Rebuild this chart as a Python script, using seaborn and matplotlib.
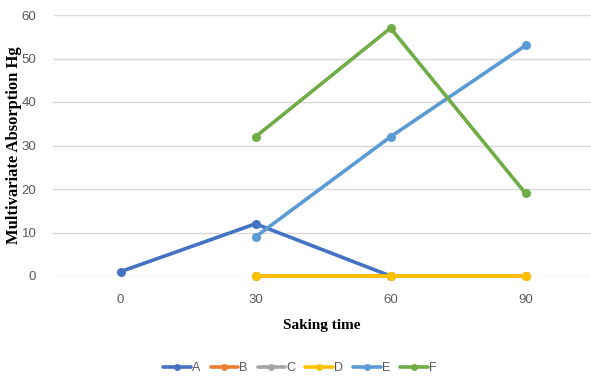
import matplotlib
matplotlib.use("Agg")
import matplotlib.pyplot as plt
import seaborn as sns
import pandas as pd
import numpy as np

# Soaking times (categories) and the six series
times = ["0", "30", "60", "90"]
series_names = ["A", "B", "C", "D", "E", "F"]
A = [1, 12, 0, None]
B = [None, 0, 0, 0]
C = [None, 0, 0, 0]
D = [None, 0, 0, 0]
E = [None, 9, 32, 53]
F = [None, 32, 57, 19]
colors = ["#4472C4", "#ED7D31", "#A5A5A5", "#FFC000", "#5B9BD5", "#70AD47"]

rows = []
for name, vals in zip(series_names, [A, B, C, D, E, F]):
    for i, (t, v) in enumerate(zip(times, vals)):
        if v is not None:
            rows.append({"pos": i, "time": t, "value": v, "series": name})
df = pd.DataFrame(rows)

sns.set_theme(style="white")
plt.rcParams["font.family"] = ["Liberation Sans", "DejaVu Sans"]

fig = plt.figure(figsize=(5.91, 3.80), dpi=100)
ax = fig.add_axes([53 / 591, 1 - 276 / 380, (591 - 53) / 591, (276 - 15) / 380])

sns.lineplot(data=df, x="pos", y="value", hue="series", hue_order=series_names,
             palette=colors, marker="o", markersize=6.5, markeredgewidth=0,
             linewidth=2.6, ax=ax, legend=False, clip_on=False, sort=False)

ax.set_xlim(-0.5, 3.485)
ax.set_ylim(0, 60)
ax.set_yticks(np.arange(0, 61, 10))
ax.set_xticks(range(len(times)))
ax.set_xticklabels(times)
ax.yaxis.grid(True, color="#D9D9D9", linewidth=1)
ax.set_axisbelow(True)
for s in ax.spines.values():
    s.set_visible(False)
ax.tick_params(axis="both", length=0, labelsize=9.5, colors="#595959")
ax.tick_params(axis="x", pad=13)
ax.tick_params(axis="y", pad=12)

ax.set_xlabel("Saking time", family="Liberation Serif", fontweight="bold",
              fontsize=11, color="black", labelpad=9)
ax.set_ylabel("Multivariate Absorption Hg", family="Liberation Serif",
              fontweight="bold", fontsize=12, color="black", va="center")
ax.yaxis.set_label_coords((14 - 53) / 538, 0.5)

handles = [plt.Line2D([], [], color=c, linewidth=2.6, marker="o", markersize=5,
                      markeredgewidth=0) for c in colors]
fig.legend(handles, series_names, loc="center", bbox_to_anchor=(300 / 591, 1 - 368 / 380),
           ncol=6, frameon=False, fontsize=9, handlelength=2.2, handletextpad=0.1,
           columnspacing=0.8, labelcolor="#595959")

fig.savefig("out.png", dpi=100)
